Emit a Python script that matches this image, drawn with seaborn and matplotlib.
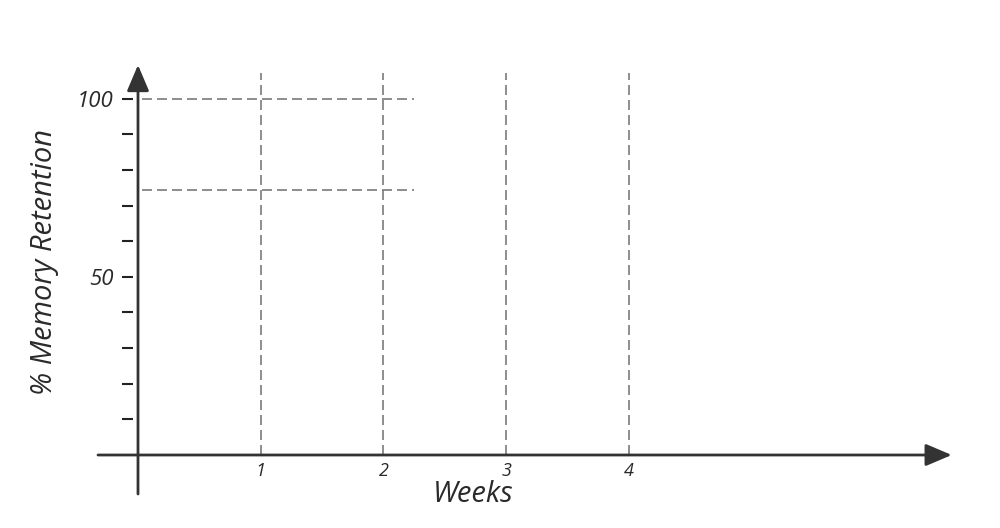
import matplotlib
matplotlib.use("Agg")
import matplotlib.pyplot as plt
import seaborn as sns
import pandas as pd

# ---- data ----
weeks = [1, 2, 3, 4]
week_labels = ["1", "2", "3", "4"]
retention_refs = [100, 74.5]
ref_line_end_week = 2.25
week_line_top = 107.3
y_ticks = [10, 20, 30, 40, 50, 60, 70, 80, 90, 100]
y_tick_labels = ["", "", "", "", "50", "", "", "", "", "100"]
x_title = "Weeks"
y_title = "% Memory Retention"

sns.set_theme(style="white")
plt.rcParams["font.family"] = ["Open Sans", "DejaVu Sans"]

fig = plt.figure(figsize=(10, 5.28), dpi=100)
ax = fig.add_axes([0, 0, 1, 1])

# pixel mapping: x=0 at 138px, 122.7 px/week; y=0 at 455px from top, 3.563 px/unit
px_w = 122.7
px_y = 3.563
ax.set_xlim(-138 / px_w, (1000 - 138) / px_w)
ax.set_ylim(-(528 - 455) / px_y, 455 / px_y)

grey = "#7a7a7a"
dark = "#333333"
text_c = "#2a2a2a"

# dashed reference lines via seaborn
vdf = pd.DataFrame({
    "x": [w for w in weeks for _ in range(2)],
    "y": [v for _ in weeks for v in (0, week_line_top)],
    "id": [w for w in weeks for _ in range(2)],
})
hdf = pd.DataFrame({
    "x": [v for _ in retention_refs for v in (0.03, ref_line_end_week)],
    "y": [r for r in retention_refs for _ in range(2)],
    "id": [r for r in retention_refs for _ in range(2)],
})
for df in (vdf, hdf):
    sns.lineplot(data=df, x="x", y="y", units="id", estimator=None, sort=False,
                 color=grey, linewidth=1.2, dashes=False, linestyle=(0, (6, 3)), ax=ax)

# axes arrows
x0 = -40 / px_w
x1 = (951.7 - 138) / px_w
y0 = -(494 - 455) / px_y
y1 = (455 - 65) / px_y
arrow_kw = dict(arrowstyle="-|>,head_length=0.8,head_width=0.34", color=dark,
                lw=2.0, shrinkA=0, shrinkB=0, mutation_scale=20)
ax.annotate("", xy=(x1, 0), xytext=(x0, 0), arrowprops=arrow_kw, zorder=5)
ax.annotate("", xy=(0, y1), xytext=(0, y0), arrowprops=arrow_kw, zorder=5)

# spines invisible but positioned for ticks
for s in ax.spines.values():
    s.set_visible(False)
ax.spines["left"].set_position(("data", -5 / px_w))
ax.spines["bottom"].set_position(("data", 0))

ax.set_yticks(y_ticks)
ax.set_yticklabels(y_tick_labels, fontstyle="italic", fontsize=16, color=text_c)
ax.tick_params(axis="y", which="major", direction="out", length=8, width=1.5,
               color="#222222", pad=6, left=True)

ax.set_xticks(weeks)
ax.set_xticklabels(week_labels, fontstyle="italic", fontsize=13, color=text_c)
ax.tick_params(axis="x", which="major", length=0, pad=5, bottom=True)

ax.grid(False)
ax.set_xlabel("")
ax.set_ylabel("")
ax.set_facecolor("white")

# axis titles
fig.text(473.5 / 1000, 1 - 495 / 528, x_title, ha="center", va="center",
         fontsize=21, fontstyle="italic", color=text_c)
fig.text(45 / 1000, 1 - 262 / 528, y_title, ha="center", va="center", rotation=90,
         fontsize=21, fontstyle="italic", color=text_c)

fig.savefig("out.png", dpi=100, facecolor="white")
